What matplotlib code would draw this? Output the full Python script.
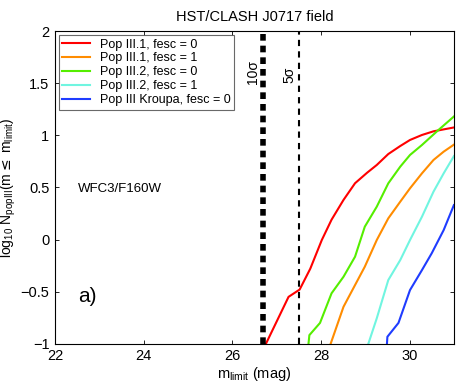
#! /usr/bin/env python3

import matplotlib
matplotlib.use("Agg")
import matplotlib.pyplot as plt

plt.rcParams['font.family'] = ['Liberation Sans', 'DejaVu Sans']

# magnitude limit curves
pop31_f0_x = [26.76, 27.27, 27.52, 27.76, 28.02, 28.24, 28.51, 28.77, 29.04, 29.26, 29.52, 29.79, 30.01, 30.28, 30.54, 31.0]
pop31_f0_y = [-1.0, -0.55, -0.48, -0.28, -0.005, 0.19, 0.38, 0.54, 0.64, 0.715, 0.82, 0.897, 0.955, 1.003, 1.038, 1.075]

pop31_f1_x = [28.22, 28.51, 28.77, 28.99, 29.26, 29.52, 29.79, 30.01, 30.28, 30.54, 30.77, 31.0]
pop31_f1_y = [-1.0, -0.645, -0.437, -0.261, -0.005, 0.203, 0.363, 0.491, 0.635, 0.763, 0.843, 0.91]

pop32_f0_x = [27.72, 27.74, 27.98, 28.24, 28.51, 28.77, 28.99, 29.26, 29.52, 29.79, 30.01, 30.28, 30.65, 31.0]
pop32_f0_y = [-1.0, -0.917, -0.80, -0.516, -0.357, -0.165, 0.123, 0.315, 0.539, 0.699, 0.811, 0.907, 1.05, 1.18]

pop32_f1_x = [29.07, 29.26, 29.52, 29.79, 30.01, 30.28, 30.54, 30.77, 31.0]
pop32_f1_y = [-1.0, -0.756, -0.389, -0.197, -0.005, 0.219, 0.459, 0.635, 0.80]

kroupa_x = [29.49, 29.50, 29.75, 30.01, 30.28, 30.50, 30.77, 31.0]
kroupa_y = [-1.0, -0.933, -0.80, -0.485, -0.293, -0.132, 0.091, 0.33]

mag_10sigma = 26.7
mag_5sigma = 27.5

labels = ["Pop III.1, fesc = 0", "Pop III.1, fesc = 1", "Pop III.2, fesc = 0",
          "Pop III.2, fesc = 1", "Pop III Kroupa, fesc = 0"]
colors = ["#ff0000", "#ff8c00", "#55ee00", "#70f5e0", "#1f3cff"]

fig = plt.figure(figsize=(4.58, 3.88), dpi=100)
ax = fig.add_axes([0.120, 0.114, 0.871, 0.806])

curves = [(pop31_f0_x, pop31_f0_y), (pop31_f1_x, pop31_f1_y), (pop32_f0_x, pop32_f0_y),
          (pop32_f1_x, pop32_f1_y), (kroupa_x, kroupa_y)]
for (x, y), lab, c in zip(curves, labels, colors):
    ax.plot(x, y, color=c, lw=1.5, label=lab)

ax.axvline(mag_10sigma, color='k', lw=4, linestyle=(0, (1.2, 0.9)))
ax.axvline(mag_5sigma, color='k', lw=1.5, linestyle=(0, (3, 2.5)))
ax.text(26.46, 1.61, "10σ", rotation=90, ha='center', va='center', fontsize=10)
ax.text(27.29, 1.58, "5σ", rotation=90, ha='center', va='center', fontsize=10)

ax.text(22.52, 0.48, "WFC3/F160W", ha='left', va='center', fontsize=9.5)
ax.text(22.52, -0.55, "a)", ha='left', va='center', fontsize=15)

ax.set_xlim(22, 31)
ax.set_ylim(-1, 2)
ax.set_xticks([22, 24, 26, 28, 30])
ax.set_yticks([-1, -0.5, 0, 0.5, 1, 1.5, 2])
ax.set_yticklabels(["\u22121", "\u22120.5", "0", "0.5", "1", "1.5", "2"])
ax.tick_params(direction='in', top=True, right=True, labelsize=10.5, length=3, width=0.6, pad=4)
for s in ax.spines.values():
    s.set_linewidth(0.8)

ax.set_xlabel(r"m$_{\mathregular{limit}}$ (mag)", fontsize=10.5, labelpad=1)
ax.set_ylabel(r"log$_{\mathregular{10}}$ N$_{\mathregular{popIII}}$(m$\leq$ m$_{\mathregular{limit}}$)",
              fontsize=10)
ax.yaxis.set_label_coords(-0.093, 0.5)
ax.set_title("HST/CLASH J0717 field", fontsize=10.5, pad=7)

leg = ax.legend(loc='upper left', fontsize=9, frameon=True, fancybox=False,
                edgecolor='#444444', borderaxespad=0.3, handlelength=2.2,
                labelspacing=0.15, borderpad=0.3)
leg.get_frame().set_linewidth(0.8)

plt.savefig("out.png", dpi=100)
